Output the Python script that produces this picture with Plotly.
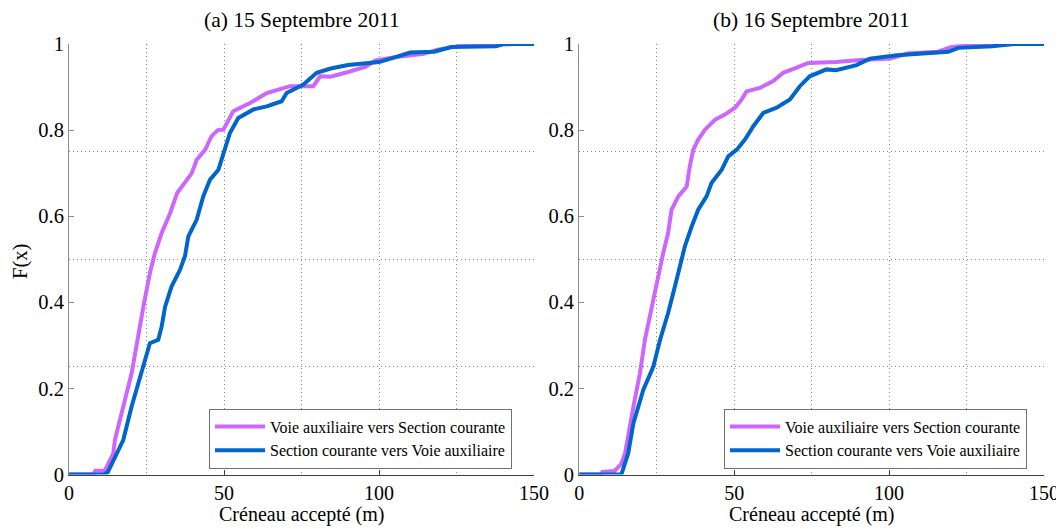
import plotly.graph_objects as go

# ---------------- data ----------------
# (a) 15 Septembre 2011
a_voie_x = [0, 7.8, 8.5, 11.6, 14.3, 14.8, 20.2, 21.3, 24.0, 26.1, 27.7, 29.9, 32.6, 34.9, 39.6, 41.2,
            43.9, 46.0, 48.0, 49.8, 53.0, 58.4, 63.8, 71.3, 78.8, 81.0, 84.4, 90.0, 95.6, 98.9, 105.6,
            114.4, 118.9, 125.6, 137.8, 144.4]
a_voie_F = [0, 0, 0.009, 0.009, 0.049, 0.080, 0.235, 0.282, 0.390, 0.468, 0.514, 0.561, 0.607, 0.654, 0.700, 0.731,
            0.754, 0.786, 0.800, 0.801, 0.844, 0.863, 0.886, 0.902, 0.902, 0.925, 0.924, 0.935, 0.947, 0.962, 0.970,
            0.977, 0.987, 0.995, 0.998, 1.0]
a_sect_x = [0, 11.1, 12.5, 14.3, 17.5, 20.2, 22.4, 24.5, 26.1, 28.8, 29.9, 31.0, 33.1, 35.8, 37.4, 38.5,
            41.2, 43.3, 45.5, 48.2, 49.8, 51.9, 54.6, 59.5, 63.8, 68.6, 70.2, 75.6, 79.9, 84.4, 90.0,
            100.0, 105.6, 110.0, 117.8, 123.3, 137.8, 140.0, 150.0]
a_sect_F = [0, 0, 0.005, 0.034, 0.080, 0.158, 0.212, 0.266, 0.305, 0.313, 0.344, 0.390, 0.437, 0.475, 0.507, 0.553,
            0.592, 0.646, 0.685, 0.708, 0.747, 0.793, 0.828, 0.848, 0.855, 0.867, 0.886, 0.906, 0.933, 0.943, 0.951,
            0.958, 0.970, 0.980, 0.982, 0.993, 0.995, 1.0, 1.0]

# (b) 16 Septembre 2011
b_voie_x = [0, 7.0, 7.5, 11.4, 13.6, 14.8, 17.5, 19.6, 21.2, 23.4, 25.8, 27.1, 28.7, 29.8, 32.0, 34.7,
            35.7, 36.8, 38.4, 40.6, 43.8, 47.0, 50.3, 52.4, 54.0, 58.3, 62.6, 65.8, 70.2, 73.9, 82.9,
            89.5, 100.4, 105.9, 115.8, 120.2, 126.8, 142.2]
b_voie_F = [0, 0, 0.006, 0.008, 0.025, 0.049, 0.158, 0.235, 0.313, 0.390, 0.468, 0.514, 0.561, 0.615, 0.646, 0.669,
            0.716, 0.754, 0.778, 0.801, 0.824, 0.836, 0.852, 0.871, 0.890, 0.898, 0.914, 0.933, 0.945, 0.956, 0.958,
            0.962, 0.966, 0.978, 0.982, 0.993, 0.997, 1.0]
b_sect_x = [0, 13.6, 15.8, 17.5, 20.7, 23.9, 26.1, 28.7, 30.9, 32.5, 34.1, 36.3, 38.4, 41.1, 42.7, 46.0,
            48.1, 50.8, 53.5, 56.2, 59.4, 63.7, 68.0, 71.2, 74.4, 79.8, 82.9, 89.5, 93.8, 102.6, 110.3,
            119.1, 122.4, 133.4, 140.0, 150.0]
b_sect_F = [0, 0, 0.049, 0.119, 0.197, 0.250, 0.313, 0.375, 0.437, 0.484, 0.530, 0.576, 0.615, 0.646, 0.677, 0.708,
            0.739, 0.754, 0.778, 0.809, 0.840, 0.852, 0.871, 0.902, 0.925, 0.941, 0.939, 0.951, 0.966, 0.974, 0.978,
            0.982, 0.991, 0.995, 1.0, 1.0]

subplot_titles = ["(a) 15 Septembre 2011", "(b) 16 Septembre 2011"]
series_names = ["Voie auxiliaire vers Section courante", "Section courante vers Voie auxiliaire"]
x_ticks = [0, 50, 100, 150]
x_grid = [25, 75, 125]
y_ticks = [0, 0.2, 0.4, 0.6, 0.8, 1]
y_tick_labels = ["0", "0.2", "0.4", "0.6", "0.8", "1"]
y_grid = [0.25, 0.5, 0.75]
x_title = "Créneau accepté (m)"
y_title = "F(x)"

# ---------------- styling ----------------
PURPLE = "#CC66FF"
BLUE = "#0066CC"
FONT = "Liberation Serif"
# the page body has an 8px margin, so the figure is 8px smaller than the window
OFF = 8
W, H = 1064 - OFF, 529 - OFF
GRID = dict(showgrid=True, gridcolor="#8a8a8a", griddash="1px,3px", gridwidth=1)


def px_x(p):
    return (p - OFF) / W


def px_y(p):
    return 1 - (p - OFF) / H


fig = go.Figure()

panels = [
    (a_voie_x, a_voie_F, a_sect_x, a_sect_F, "x", "y", "legend"),
    (b_voie_x, b_voie_F, b_sect_x, b_sect_F, "x2", "y2", "legend2"),
]
for vx, vF, sx, sF, xa, ya, lg in panels:
    fig.add_trace(go.Scatter(x=vx, y=vF, mode="lines", name=series_names[0],
                             line=dict(color=PURPLE, width=4), xaxis=xa, yaxis=ya, legend=lg))
    fig.add_trace(go.Scatter(x=sx, y=sF, mode="lines", name=series_names[1],
                             line=dict(color=BLUE, width=4), xaxis=xa, yaxis=ya, legend=lg))

xdom1 = [px_x(69), px_x(534)]
xdom2 = [px_x(579.2), px_x(1044)]
ydom = [px_y(474.5), px_y(44)]


def xaxis_cfg(dom, anchor):
    return dict(
        domain=dom, anchor=anchor, range=[0, 150], tickmode="array", tickvals=x_ticks,
        ticks="inside", ticklen=5, tickcolor="#404040", showline=True, linecolor="#404040",
        linewidth=1, zeroline=False, ticklabelstandoff=0, automargin=False,
        minor=dict(tickmode="array", tickvals=x_grid, ticks="", **GRID),
        tickfont=dict(family=FONT, size=20, color="black"),
        fixedrange=True, **GRID,
    )


def yaxis_cfg(anchor):
    return dict(
        domain=ydom, anchor=anchor, range=[0, 1], tickmode="array", tickvals=y_ticks,
        ticktext=y_tick_labels,
        ticks="inside", ticklen=5, tickcolor="#8c8c8c", showline=True, linecolor="#8c8c8c",
        linewidth=1, showgrid=False, zeroline=False, ticklabelstandoff=0, automargin=False,
        minor=dict(tickmode="array", tickvals=y_grid, ticks="", **GRID),
        tickfont=dict(family=FONT, size=20.5, color="black"),
        fixedrange=True,
    )


legend_common = dict(
    bgcolor="white", bordercolor="#707070", borderwidth=1,
    font=dict(family=FONT, size=16, color="black"),
    xanchor="right", yanchor="bottom", tracegroupgap=0, itemwidth=50,
)

fig.update_layout(
    width=W, height=H,
    margin=dict(l=0, r=0, t=0, b=0, autoexpand=False),
    paper_bgcolor="white", plot_bgcolor="white",
    font=dict(family=FONT),
    xaxis=xaxis_cfg(xdom1, "y"),
    yaxis=yaxis_cfg("x"),
    xaxis2=xaxis_cfg(xdom2, "y2"),
    yaxis2=yaxis_cfg("x2"),
    legend=dict(x=px_x(512), y=px_y(468.5), **legend_common),
    legend2=dict(x=px_x(1027), y=px_y(468.5), **legend_common),
    showlegend=True,
)

for dom, t in zip([xdom1, xdom2], subplot_titles):
    cx = (dom[0] + dom[1]) / 2
    fig.add_annotation(text=t, xref="paper", yref="paper", x=cx,
                       y=px_y(20), xanchor="center", yanchor="middle", showarrow=False,
                       font=dict(family=FONT, size=21.5, color="black"))
    fig.add_annotation(text=x_title, xref="paper", yref="paper", x=cx,
                       y=px_y(514), xanchor="center", yanchor="middle", showarrow=False,
                       font=dict(family=FONT, size=20, color="black"))

fig.add_annotation(text=y_title, xref="paper", yref="paper", x=px_x(20), y=px_y(262),
                   xanchor="center", yanchor="middle", showarrow=False, textangle=-90,
                   font=dict(family=FONT, size=20.5, color="black"))

fig.write_html("out.html")
